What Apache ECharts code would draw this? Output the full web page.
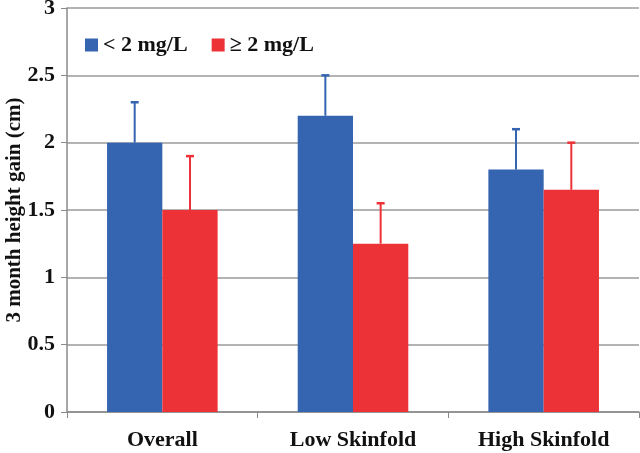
<!DOCTYPE html>
<html><head><meta charset="utf-8">
<script src="https://cdn.jsdelivr.net/npm/echarts@6/dist/echarts.min.js"></script>
<style>html,body{margin:0;padding:0;background:#fff}#c{width:640px;height:453px}</style>
</head><body><div id="c"></div>
<script>
var categories = ['Overall', 'Low Skinfold', 'High Skinfold'];
var seriesNames = ['< 2 mg/L', '≥ 2 mg/L'];
var lowValues = [2.0, 2.2, 1.8];
var lowErrTop = [2.3, 2.5, 2.1];
var highValues = [1.5, 1.25, 1.65];
var highErrTop = [1.9, 1.55, 2.0];
var yTicks = [0, 0.5, 1, 1.5, 2, 2.5, 3];

var BLUE = '#3564B0', RED = '#EC3237';
var BAR_FRAC = 0.29;
var font = '"Liberation Serif","Times New Roman",serif';

function errSeries(tops, vals, side, color) {
  var data = tops.map(function (t, i) { return [i, vals[i], t]; });
  return {
    type: 'custom', z: 5, silent: true,
    encode: { x: 0, y: [1, 2] },
    data: data,
    renderItem: function (params, api) {
      var band = api.size([1, 0])[0];
      var off = side * band * BAR_FRAC / 2;
      var p0 = api.coord([api.value(0), api.value(1)]);
      var p1 = api.coord([api.value(0), api.value(2)]);
      var x = p0[0] + off;
      return { type: 'group', children: [
        { type: 'line', shape: { x1: x, y1: p0[1], x2: x, y2: p1[1] }, style: { stroke: color, lineWidth: 2 } },
        { type: 'line', shape: { x1: x - 4, y1: p1[1], x2: x + 4, y2: p1[1] }, style: { stroke: color, lineWidth: 2.5 } }
      ]};
    }
  };
}

var chart = echarts.init(document.getElementById('c'), null, { renderer: 'canvas' });
chart.setOption({
  animation: false,
  backgroundColor: '#fff',
  grid: { left: 67, right: 1, top: 8, bottom: 41, containLabel: false, outerBoundsMode: 'none' },
  legend: {
    left: 80, top: 29, itemWidth: 13, itemHeight: 13, itemGap: 24,
    icon: 'rect',
    textStyle: { fontFamily: font, fontWeight: 'bold', fontSize: 22, color: '#111' },
    data: seriesNames
  },
  xAxis: {
    type: 'category', data: categories,
    axisLine: { lineStyle: { color: '#8a8a8a', width: 1.5 } },
    axisTick: { show: true, length: 6, lineStyle: { color: '#8a8a8a' } },
    axisLabel: { fontFamily: font, fontWeight: 'bold', fontSize: 22, color: '#111', margin: 17 }
  },
  yAxis: {
    type: 'value', min: 0, max: 3, interval: 0.5,
    name: '3 month height gain (cm)', nameLocation: 'middle', nameGap: 42,
    nameMoveOverlap: false,
    nameTextStyle: { fontFamily: font, fontWeight: 'bold', fontSize: 21, color: '#111' },
    axisLine: { show: true, lineStyle: { color: '#8a8a8a', width: 1.5 } },
    axisTick: { show: true, length: 6, lineStyle: { color: '#8a8a8a' } },
    splitLine: { lineStyle: { color: '#9a9a9a', width: 1.5 } },
    axisLabel: { fontFamily: font, fontWeight: 'bold', fontSize: 22, color: '#111', margin: 12,
      formatter: function (v) { return String(v); } }
  },
  series: [
    { name: seriesNames[0], type: 'bar', data: lowValues, barWidth: (BAR_FRAC * 100) + '%', barGap: '0%', itemStyle: { color: BLUE } },
    { name: seriesNames[1], type: 'bar', data: highValues, barWidth: (BAR_FRAC * 100) + '%', barGap: '0%', itemStyle: { color: RED } },
    errSeries(lowErrTop, lowValues, -1, BLUE),
    errSeries(highErrTop, highValues, 1, RED)
  ]
});
</script></body></html>
